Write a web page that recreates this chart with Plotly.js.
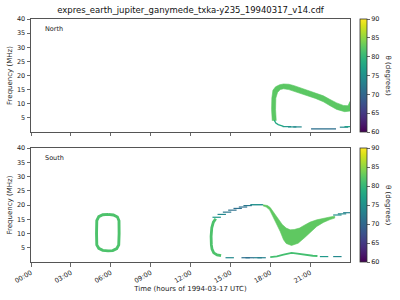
<!DOCTYPE html>
<html><head><meta charset="utf-8">
<script src="https://cdn.plot.ly/plotly-3.0.1.min.js"></script>
<style>html,body{margin:0;padding:0;background:#fff}#chart{width:400px;height:300px}</style>
</head><body><div id="chart"></div><script>
// ---------- texts / ticks ----------
const titleText = 'expres_earth_jupiter_ganymede_txka-y235_19940317_v14.cdf';
const xTickVals = [0, 3, 6, 9, 12, 15, 18, 21];
const xTickText = ['00:00', '03:00', '06:00', '09:00', '12:00', '15:00', '18:00', '21:00'];
const yTickVals = [5, 10, 15, 20, 25, 30, 35, 40];
const panelNames = ['North', 'South'];

// ---------- North hemisphere (time in hours, frequency in MHz, theta in degrees) ----------
const northArcUpperT = [18.15, 18.10, 18.12, 18.20, 18.40, 18.70, 19.00, 19.40, 19.80, 20.30, 20.80, 21.40, 22.00, 22.50, 23.00, 23.50, 23.85, 24.00];
const northArcUpperF = [4.0, 8.0, 12.0, 14.8, 16.0, 16.7, 17.0, 16.9, 16.4, 15.6, 14.8, 13.9, 12.8, 11.5, 10.3, 9.4, 9.3, 10.8];
const northArcLowerT = [24.00, 23.60, 23.00, 22.50, 22.00, 21.40, 20.80, 20.30, 19.80, 19.40, 19.00, 18.75, 18.55, 18.42, 18.40, 18.45];
const northArcLowerF = [7.4, 7.2, 8.0, 9.3, 10.7, 11.9, 12.9, 13.6, 14.4, 15.0, 15.3, 15.0, 14.0, 12.0, 8.0, 4.0];
const northArcTheta = 82.3;

const northHookT = [18.30, 18.42, 18.60, 18.80, 19.00];
const northHookF = [4.2, 3.2, 2.6, 2.2, 2.0];
const northHookTheta = 78;

const northLongT = [21.07, 22.95];
const northLongF = [1.1, 1.1];
const northLongTheta = 71;

const northDashT = [19.25, 19.65, 20.05, 23.55, 23.90];
const northDashF = [1.9, 1.8, 1.8, 1.7, 1.9];
const northDashTheta = [76, 75, 74, 74, 77];

// ---------- South hemisphere ----------
const southOvalT = [5.80, 6.20, 6.50, 6.62, 6.63, 6.60, 6.45, 6.15, 5.80, 5.40, 5.10, 4.95, 4.93, 4.95, 5.10, 5.40, 5.80];
const southOvalF = [16.7, 16.5, 15.8, 14.5, 10.0, 6.0, 4.7, 4.0, 3.9, 4.1, 4.8, 6.0, 10.0, 14.5, 15.9, 16.6, 16.7];
const southOvalTheta = 81.5;

const southLeftT = [13.90, 13.72, 13.60, 13.55, 13.57, 13.62, 13.75, 14.00, 14.30];
const southLeftF = [15.2, 14.0, 12.0, 9.0, 6.0, 4.5, 3.2, 2.5, 2.2];
const southLeftTheta = 81.5;

const southArcDashT = [13.97, 14.35, 14.75, 15.15, 15.55, 15.95, 16.30];
const southArcDashF = [15.7, 16.7, 17.5, 18.2, 18.8, 19.3, 19.8];
const southArcDashTheta = [76, 74, 72, 71, 71, 71, 72];

const southTopT = [16.50, 17.45];
const southTopF = [20.1, 20.1];
const southTopTheta = 75;

const southVUpperT = [17.45, 17.80, 18.00, 18.30, 18.60, 18.90, 19.20, 19.50, 19.80, 20.20, 20.60, 21.00, 21.50, 22.00, 22.50, 22.85];
const southVUpperF = [20.1, 19.8, 19.1, 17.2, 15.0, 13.2, 11.9, 11.3, 11.4, 11.9, 13.0, 14.0, 14.8, 15.4, 15.8, 16.1];
const southVLowerT = [22.85, 22.50, 22.00, 21.50, 21.10, 20.60, 20.10, 19.60, 19.20, 19.00, 18.75, 18.50, 18.20, 17.95, 17.70, 17.45];
const southVLowerF = [15.4, 14.9, 13.9, 12.5, 10.7, 8.6, 6.6, 5.8, 6.5, 7.8, 10.7, 13.2, 16.2, 18.3, 19.3, 19.7];
const southVTheta = 82.5;

const southTailDashT = [23.05, 23.40, 23.80];
const southTailDashF = [16.5, 16.9, 17.3];
const southTailDashTheta = [75, 74, 73];

const southBumpT = [18.00, 18.50, 19.00, 19.30, 19.60, 19.90, 20.30, 20.80, 21.20, 21.55];
const southBumpF = [1.7, 2.0, 2.6, 3.0, 3.2, 3.0, 2.7, 2.4, 2.2, 2.1];
const southBumpTheta = 81;

const southLowDashT = [14.95, 16.15, 16.45, 17.05, 17.35, 22.05, 23.05];
const southLowDashF = [1.5, 1.5, 1.5, 1.5, 1.5, 1.9, 1.9];
const southLowDashTheta = [74, 71, 71, 73, 73, 76, 74];

// ---------- colour helper (viridis, same map as the colour bars) ----------
const thetaMin = 60, thetaMax = 90;
const viridisStops = ['#440154', '#482475', '#414487', '#355f8d', '#2a788e', '#21918c', '#22a884', '#44bf70', '#7ad151', '#bddf26', '#fde725'];
function hex2rgb(h) { return [1, 3, 5].map(i => parseInt(h.substr(i, 2), 16)); }
function viridis(theta) {
  let v = Math.max(0, Math.min(1, (theta - thetaMin) / (thetaMax - thetaMin))) * 10;
  let i = Math.min(9, Math.floor(v)), f = v - i;
  const a = hex2rgb(viridisStops[i]), b = hex2rgb(viridisStops[i + 1]);
  return 'rgb(' + a.map((c, k) => Math.round(c + (b[k] - c) * f)).join(',') + ')';
}

function band(uT, uF, lT, lF, theta, xa, ya) {
  const c = viridis(theta);
  return { type: 'scatter', mode: 'lines', x: uT.concat(lT), y: uF.concat(lF), fill: 'toself',
    fillcolor: c, line: { color: c, width: 0.6 }, xaxis: xa, yaxis: ya, hoverinfo: 'skip', showlegend: false };
}
function stroke(t, f, theta, w, xa, ya) {
  return { type: 'scatter', mode: 'lines', x: t, y: f, line: { color: viridis(theta), width: w },
    xaxis: xa, yaxis: ya, hoverinfo: 'skip', showlegend: false };
}
function dashes(t, f, th, ca, xa, ya) {
  return { type: 'scatter', mode: 'markers', x: t, y: f, xaxis: xa, yaxis: ya, showlegend: false,
    marker: { symbol: 'line-ew-open', size: 6, color: th, coloraxis: ca, line: { width: 1.2 } } };
}

const traces = [
  band(northArcUpperT, northArcUpperF, northArcLowerT, northArcLowerF, northArcTheta, 'x', 'y'),
  stroke(northHookT, northHookF, northHookTheta, 1.3, 'x', 'y'),
  stroke(northLongT, northLongF, northLongTheta, 1.3, 'x', 'y'),
  dashes(northDashT, northDashF, northDashTheta, 'coloraxis', 'x', 'y'),

  stroke(southOvalT, southOvalF, southOvalTheta, 2.9, 'x2', 'y2'),
  stroke(southLeftT, southLeftF, southLeftTheta, 2.8, 'x2', 'y2'),
  stroke(southTopT, southTopF, southTopTheta, 1.4, 'x2', 'y2'),
  band(southVUpperT, southVUpperF, southVLowerT, southVLowerF, southVTheta, 'x2', 'y2'),
  stroke(southBumpT, southBumpF, southBumpTheta, 1.8, 'x2', 'y2'),
  dashes(southArcDashT, southArcDashF, southArcDashTheta, 'coloraxis2', 'x2', 'y2'),
  dashes(southTailDashT, southTailDashF, southTailDashTheta, 'coloraxis2', 'x2', 'y2'),
  dashes(southLowDashT, southLowDashF, southLowDashTheta, 'coloraxis2', 'x2', 'y2')
];

const fontFam = 'DejaVu Sans, sans-serif';
const axBase = { showline: true, mirror: true, linecolor: '#555', linewidth: 1, showgrid: false, zeroline: false,
  ticks: 'outside', ticklen: 3.5, tickwidth: 0.8, tickcolor: '#444', tickfont: { size: 6.5, color: '#222' } };
const yBase = Object.assign({}, axBase, { range: [0, 40], tickvals: yTickVals,
  title: { text: 'Frequency (MHz)', font: { size: 7, color: '#222' }, standoff: 3 } });
const cbBase = { thickness: 7, thicknessmode: 'pixels', lenmode: 'fraction', x: 1.031, xanchor: 'left', xpad: 0, ypad: 0,
  outlinewidth: 0.8, outlinecolor: '#333', ticks: 'outside', ticklen: 3, tickwidth: 0.8, tickcolor: '#444',
  tick0: 60, dtick: 5, tickfont: { size: 6.5, color: '#222' } };

const layout = {
  width: 400, height: 300,
  margin: { l: 31, r: 50, t: 19, b: 38 },
  paper_bgcolor: '#fff', plot_bgcolor: '#fff',
  font: { family: fontFam, color: '#222' },
  showlegend: false,
  title: { text: titleText, font: { size: 8.5, color: '#111' }, x: 0.5, xref: 'paper', xanchor: 'center', y: 0.965, yref: 'container', yanchor: 'middle' },
  xaxis: Object.assign({}, axBase, { domain: [0, 1], range: [0, 24], anchor: 'y', tickvals: xTickVals, showticklabels: false }),
  yaxis: Object.assign({}, yBase, { domain: [0.535, 1], anchor: 'x' }),
  xaxis2: Object.assign({}, axBase, { domain: [0, 1], range: [0, 24], anchor: 'y2', tickvals: xTickVals, ticktext: xTickText, tickangle: -30,
    title: { text: 'Time (hours of 1994-03-17 UTC)', font: { size: 7, color: '#222' }, standoff: 2 } }),
  yaxis2: Object.assign({}, yBase, { domain: [0, 0.469], anchor: 'x2' }),
  coloraxis: { colorscale: 'Viridis', cmin: thetaMin, cmax: thetaMax, showscale: true,
    colorbar: Object.assign({}, cbBase, { len: 0.465, y: 1, yanchor: 'top' }) },
  coloraxis2: { colorscale: 'Viridis', cmin: thetaMin, cmax: thetaMax, showscale: true,
    colorbar: Object.assign({}, cbBase, { len: 0.469, y: 0.469, yanchor: 'top' }) },
  annotations: [
    { text: panelNames[0], xref: 'x domain', yref: 'y domain', x: 0.038, y: 0.912, xanchor: 'left', yanchor: 'middle', showarrow: false, font: { size: 6.5, color: '#222' } },
    { text: panelNames[1], xref: 'x2 domain', yref: 'y2 domain', x: 0.038, y: 0.912, xanchor: 'left', yanchor: 'middle', showarrow: false, font: { size: 6.5, color: '#222' } },
    { text: 'θ (degrees)', xref: 'paper', yref: 'paper', x: 1.119, y: 0.7675, textangle: 90, showarrow: false, xanchor: 'center', yanchor: 'middle', font: { size: 7, color: '#222' } },
    { text: 'θ (degrees)', xref: 'paper', yref: 'paper', x: 1.119, y: 0.2345, textangle: 90, showarrow: false, xanchor: 'center', yanchor: 'middle', font: { size: 7, color: '#222' } }
  ]
};

Plotly.newPlot('chart', traces, layout, { displayModeBar: false, staticPlot: true });
</script></body></html>
